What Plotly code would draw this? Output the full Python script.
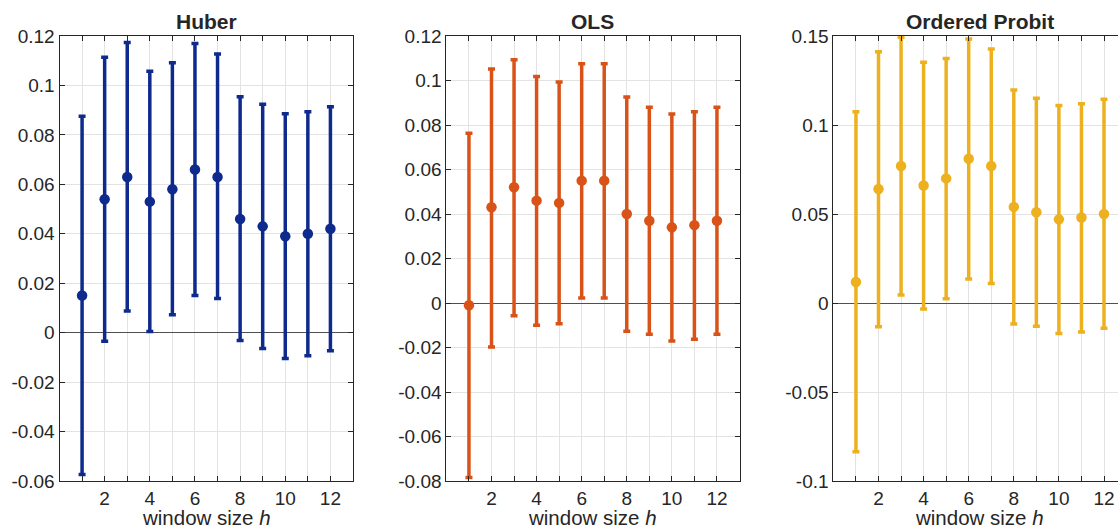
import plotly.graph_objects as go

h = list(range(1, 13))

huber_est = [0.015, 0.054, 0.063, 0.053, 0.058, 0.066, 0.063, 0.046, 0.043, 0.039, 0.040, 0.042]
huber_lo = [-0.0574, -0.0035, 0.0088, 0.0005, 0.0072, 0.015, 0.0138, -0.0032, -0.0064, -0.0104, -0.0093, -0.0073]
huber_hi = [0.0875, 0.1114, 0.1174, 0.1057, 0.1092, 0.1170, 0.1127, 0.0954, 0.0924, 0.0885, 0.0894, 0.0914]

ols_est = [-0.001, 0.043, 0.052, 0.046, 0.045, 0.055, 0.055, 0.040, 0.037, 0.034, 0.035, 0.037]
ols_lo = [-0.0784, -0.0198, -0.0057, -0.0100, -0.0093, 0.0022, 0.0022, -0.0127, -0.0141, -0.0171, -0.0163, -0.0141]
ols_hi = [0.0763, 0.1052, 0.1093, 0.1018, 0.0993, 0.1075, 0.1075, 0.0926, 0.0880, 0.0849, 0.0860, 0.0880]

probit_est = [0.0118, 0.064, 0.077, 0.066, 0.070, 0.081, 0.077, 0.054, 0.051, 0.047, 0.048, 0.050]
probit_lo = [-0.0835, -0.0133, 0.0045, -0.0034, 0.0024, 0.0135, 0.0110, -0.0118, -0.0131, -0.0172, -0.0163, -0.0142]
probit_hi = [0.1075, 0.1412, 0.1493, 0.1352, 0.1373, 0.1483, 0.1427, 0.1197, 0.1150, 0.1110, 0.1120, 0.1144]

titles = ["Huber", "OLS", "Ordered Probit"]
colors = ["#0E2A8C", "#D95319", "#EDB120"]

huber_yticks = [-0.06, -0.04, -0.02, 0, 0.02, 0.04, 0.06, 0.08, 0.1, 0.12]
ols_yticks = [-0.08, -0.06, -0.04, -0.02, 0, 0.02, 0.04, 0.06, 0.08, 0.1, 0.12]
probit_yticks = [-0.1, -0.05, 0, 0.05, 0.1, 0.15]
x_tickvals = list(range(1, 13))
x_ticktext = [str(v) if v % 2 == 0 else "" for v in x_tickvals]

W, H = 1118, 529
FONT = "Liberation Sans, Arial, Helvetica, sans-serif"
TXT = "#262626"
FS = 19

panels = [
    (huber_est, huber_lo, huber_hi, huber_yticks, [-0.06, 0.12], (59.5, 353.0), [0, 13]),
    (ols_est, ols_lo, ols_hi, ols_yticks, [-0.08, 0.12], (446.4, 739.5), [0, 13]),
    (probit_est, probit_lo, probit_hi, probit_yticks, [-0.1, 0.15], (833.4, 1118.0), [0, (1118.0 - 833.4) / 22.55]),
]

fig = go.Figure()
layout = dict(
    width=W, height=H,
    margin=dict(l=0, r=0, t=0, b=0, autoexpand=False),
    paper_bgcolor="white", plot_bgcolor="white",
    showlegend=False,
    font=dict(family=FONT, size=FS, color=TXT),
)
ydom = [1 - 481 / H, 1 - 36 / H]
annotations = []
for i, (est, lo, hi, yt, yr, (x0, x1), xr) in enumerate(panels):
    n = "" if i == 0 else str(i + 1)
    plus = [u - e for u, e in zip(hi, est)]
    minus = [e - l for e, l in zip(est, lo)]
    fig.add_trace(go.Scatter(
        x=h, y=est, mode="markers",
        marker=dict(size=10.5, color=colors[i], line=dict(width=0)),
        error_y=dict(type="data", symmetric=False, array=plus, arrayminus=minus,
                     color=colors[i], thickness=3.5, width=3.5),
        xaxis="x" + n, yaxis="y" + n,
    ))
    last = (i == 2)
    layout["xaxis" + n] = dict(
        domain=[x0 / W, x1 / W], range=xr, anchor="y" + n,
        tickvals=x_tickvals, ticktext=x_ticktext,
        ticks="inside", ticklen=5, tickcolor=TXT, tickwidth=1,
        showline=True, linecolor=TXT, linewidth=1, mirror="ticks",
        showgrid=True, gridcolor="#E3E3E3", gridwidth=1,
        zeroline=False, tickfont=dict(size=FS, color=TXT),
        automargin=False, fixedrange=True,
    )
    layout["yaxis" + n] = dict(
        domain=ydom, range=yr, anchor="x" + n,
        tickvals=yt, ticktext=[f"{v:g}" for v in yt],
        ticks="inside", ticklen=5, tickcolor=TXT, tickwidth=1,
        showline=True, linecolor=TXT, linewidth=1,
        mirror=(False if last else "ticks"),
        showgrid=True, gridcolor="#E3E3E3", gridwidth=1,
        zeroline=True, zerolinecolor="#505050", zerolinewidth=1.2,
        tickfont=dict(size=FS, color=TXT),
        automargin=False, fixedrange=True,
    )
    cx = (x0 + (x0 + 13 * 22.55 if last else x1)) / 2 / W
    annotations.append(dict(
        text="<b>" + titles[i] + "</b>", x=cx, y=1 - 21 / H, xref="paper", yref="paper",
        xanchor="center", yanchor="middle", showarrow=False,
        font=dict(size=21, color=TXT, family=FONT),
    ))
    annotations.append(dict(
        text="window size <i>h</i>", x=cx, y=1 - 517 / H, xref="paper", yref="paper",
        xanchor="center", yanchor="middle", showarrow=False,
        font=dict(size=20.5, color=TXT, family=FONT),
    ))

layout["annotations"] = annotations
fig.update_layout(**layout)
fig.write_html(
    "out.html",
    config={"displayModeBar": False},
    post_script="document.body.style.margin='0';document.body.style.overflow='hidden';",
)
